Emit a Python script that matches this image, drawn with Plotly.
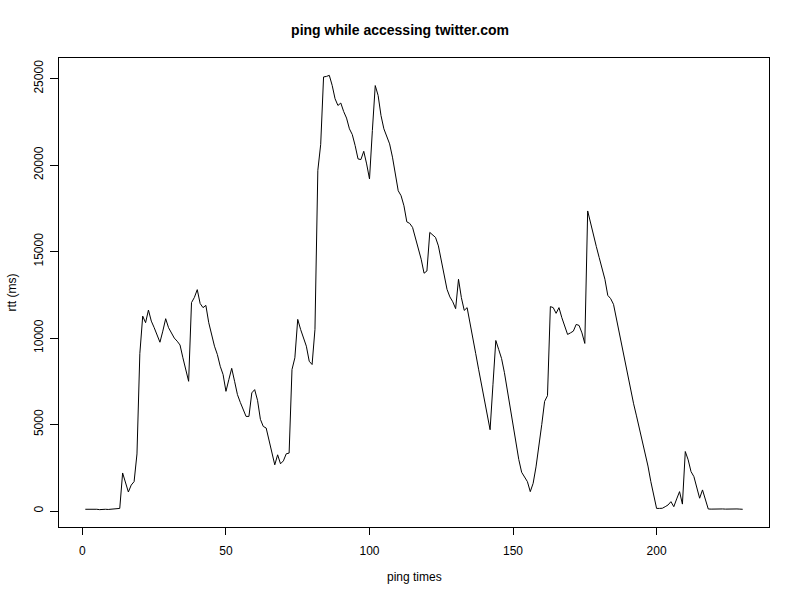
import plotly.graph_objects as go

# rtt values (ms), one per ping
rtt = [
    100, 110, 90, 120, 100, 80, 110, 100, 90, 100,          # 1-10
    110, 100, 150, 2200, 1600, 1100, 1500, 1700, 3300, 9100,  # 11-20
    11270, 10890, 11620, 10980, 10600, 10200, 9760, 10400, 11120, 10600,  # 21-30
    10300, 10000, 9820, 9600, 8860, 8200, 7500, 12050, 12350, 12800,      # 31-40
    12000, 11760, 11890, 10890, 10110, 9530, 9050, 8370, 7890, 6920,      # 41-50
    7600, 8250, 7500, 6730, 6280, 5860, 5470, 5470, 6830, 7020,           # 51-60
    6400, 5300, 4890, 4800, 4100, 3400, 2670, 3250, 2730, 2900,           # 61-70
    3310, 3350, 8180, 8860, 11080, 10500, 10030, 9530, 8660, 8470,        # 71-80
    10500, 19700, 21200, 25100, 25130, 25190, 24610, 23840, 23450, 23590, # 81-90
    23100, 22720, 22100, 21770, 21130, 20360, 20320, 20800, 20070, 19200, # 91-100
    22000, 24600, 24030, 22870, 22100, 21700, 21230, 20460, 19490, 18520, # 101-110
    18230, 17650, 16720, 16630, 16400, 15820, 15240, 14560, 13750, 13880, # 111-120
    16110, 15970, 15820, 15330, 14460, 13500, 12820, 12380, 12100, 11700, # 121-130
    13400, 12340, 11600, 11760, 10800, 10000, 9100, 8200, 7300, 6400,     # 131-140
    5500, 4700, 7300, 9860, 9340, 8820, 8000, 7000, 5980, 4900,           # 141-150
    3750, 2980, 2240, 1950, 1700, 1120, 1600, 2550, 3700, 5000,           # 151-160
    6340, 6670, 11820, 11760, 11430, 11760, 11180, 10700, 10210, 10300,   # 161-170
    10400, 10790, 10730, 10300, 9690, 17350, 16600, 15910, 15300, 14660,  # 171-180
    14000, 13400, 12470, 12280, 11950, 11100, 10300, 9500, 8600, 7700,    # 181-190
    6900, 6200, 5500, 4800, 4100, 3400, 2600, 1700, 900, 150,             # 191-200
    150, 160, 250, 350, 540, 250, 700, 1120, 400, 3440,                   # 201-210
    2960, 2280, 1990, 1410, 740, 1220, 640, 116, 110, 120,                # 211-220
    110, 120, 120, 110, 120, 110, 120, 120, 110, 100,                     # 221-230
]
ping_times = list(range(1, len(rtt) + 1))

x_ticks = [0, 50, 100, 150, 200]
y_ticks = [0, 5000, 10000, 15000, 20000, 25000]

title_text = "ping while accessing twitter.com"
x_label = "ping times"
y_label = "rtt (ms)"

# R-style 4% axis extension
xmin, xmax = min(ping_times), max(ping_times)
ymin, ymax = min(rtt), max(rtt)
xr = [xmin - 0.04 * (xmax - xmin), xmax + 0.04 * (xmax - xmin)]
yr = [ymin - 0.04 * (ymax - ymin), ymax + 0.04 * (ymax - ymin)]

font_family = "Liberation Sans, Arial, Helvetica, sans-serif"

W, H = 800, 600

fig = go.Figure()
fig.add_trace(go.Scatter(
    x=ping_times, y=rtt, mode="lines",
    line=dict(color="black", width=1),
    hoverinfo="x+y", showlegend=False,
))

fig.update_layout(
    width=W, height=H,
    paper_bgcolor="white", plot_bgcolor="white",
    margin=dict(l=59, r=31, t=58, b=73, autoexpand=False),
    font=dict(family=font_family, size=12, color="black"),
    title=dict(text="<b>" + title_text + "</b>", x=0.5, xanchor="center",
               y=1 - 30 / H, yanchor="middle",
               font=dict(size=14, family=font_family, color="black")),
    xaxis=dict(
        range=xr, tickmode="array", tickvals=x_ticks,
        ticktext=[str(v) for v in x_ticks],
        showgrid=False, zeroline=False,
        showline=True, linecolor="black", linewidth=1, mirror=True,
        ticks="outside", ticklen=7, tickcolor="black", tickwidth=1,
        tickfont=dict(size=12), ticklabelstandoff=6,
    ),
    yaxis=dict(
        range=yr, tickmode="array", tickvals=y_ticks,
        ticktext=[str(v) for v in y_ticks],
        showgrid=False, zeroline=False,
        showline=True, linecolor="black", linewidth=1, mirror=True,
        ticks="outside", ticklen=8, tickcolor="black", tickwidth=1,
        tickangle=-90, tickfont=dict(size=12), ticklabelstandoff=2,
    ),
    annotations=[
        dict(text=x_label, xref="paper", yref="paper",
             x=0.5, y=-(577 - 527) / 469, xanchor="center", yanchor="middle",
             showarrow=False, font=dict(size=12)),
        dict(text=y_label, xref="paper", yref="paper",
             x=-(59 - 11) / 710, y=0.5, xanchor="center", yanchor="middle",
             textangle=-90, showarrow=False, font=dict(size=12)),
    ],
)

# remove the browser's default 8px body margin so the figure sits at the corner
fig.write_html("out.html",
               config={"displayModeBar": False},
               post_script="document.body.style.margin='0px';"
                           "document.body.style.overflow='hidden';")
